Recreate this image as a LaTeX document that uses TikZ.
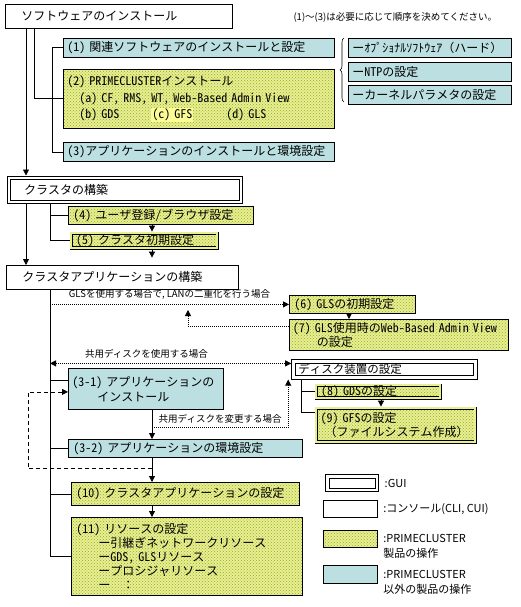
\documentclass[tikz,border=0pt]{standalone}
\usepackage{fontspec}
\setmainfont{Noto Sans CJK JP}
\newfontfamily\boxfont{Noto Sans Mono CJK JP}
\usetikzlibrary{arrows.meta, patterns, decorations.pathreplacing}
\definecolor{tealfill}{RGB}{188,224,226}
\definecolor{yelfill}{RGB}{232,238,150}
\definecolor{yeldot}{RGB}{150,175,20}
\definecolor{gfsfill}{RGB}{252,252,150}

\begin{document}
\begin{tikzpicture}[x=1pt, y=-1pt,
    box/.style={draw, line width=0.8pt, anchor=north west, align=left, inner xsep=5pt, inner ysep=0pt, font=\boxfont\fontsize{12}{15}\selectfont},
    console/.style={box, fill=white},
    prod/.style={box, fill=tealfill},
    pcl/.style={box, preaction={fill=yelfill}, pattern=crosshatch dots, pattern color=yeldot},
    dbl/.style={double=yelfill, double distance=2pt, line width=0.6pt, outer sep=1.6pt},
    gui/.style={box, fill=white, line width=1.1pt, double=white, double distance=2.2pt, outer sep=2.2pt},
    small/.style={font=\fontsize{9.5}{12}\selectfont},
    legend/.style={font=\fontsize{11}{15}\selectfont, align=left},
    link/.style={line width=0.8pt},
    arr/.style={-{Triangle[width=6pt,length=6pt]}, line width=0.8pt},
    dotarr/.style={arr, dash pattern=on 1pt off 1pt},
    dotboth/.style={dotarr, {Triangle[width=6pt,length=6pt]}-{Triangle[width=6pt,length=6pt]}},
    dasharr/.style={arr, dash pattern=on 4pt off 3pt},
]
    \useasboundingbox (0,0) rectangle (520,607);

    % Software installation
    \node[console, text width=195pt, inner xsep=16pt, minimum height=24pt] (sw) at (5,4) {ソフトウェアのインストール};
    \node[small, anchor=west] (note) at (290,17) {(1)〜(3)は必要に応じて順序を決めてください。};
    \node[prod, text width=263pt, inner xsep=4pt, minimum height=19pt] (s1) at (63,38) {(1) 関連ソフトウェアのインストールと設定};
    \node[pcl, text width=263pt, inner xsep=4pt, minimum height=59pt, font=\boxfont\fontsize{12}{16.5}\selectfont] (s2) at (63,69) {(2) PRIMECLUSTERインストール\\
        \hspace*{12pt}(a) CF, RMS, WT, Web-Based Admin View\\
        \hspace*{12pt}\makebox[72pt][l]{(b) GDS}\makebox[75pt][l]{{\fboxsep=1pt\colorbox{gfsfill}{(c) GFS}}}(d) GLS};
    \node[prod, text width=263pt, inner xsep=4pt, minimum height=19pt] (s3) at (63,142) {(3)アプリケーションのインストールと環境設定};

    % Related software
    \draw[line width=0.6pt, decorate, decoration={brace, amplitude=4pt}] (344,102) -- (344,38);
    \node[prod, text width=155pt, inner xsep=4pt, minimum height=19pt] (o1) at (348,38) {ーｵﾌﾟｼｮﾅﾙｿﾌﾄｳｪｱ（ハード）};
    \node[prod, text width=155pt, inner xsep=4pt, minimum height=19pt] (o2) at (348,62) {ーNTPの設定};
    \node[prod, text width=155pt, inner xsep=4pt, minimum height=19pt] (o3) at (348,85) {ーカーネルパラメタの設定};

    % Cluster build
    \node[gui, text width=201pt, inner xsep=15.5pt, minimum height=24pt] (gui1) at (6.5,175.5) {クラスタの構築};
    \node[pcl, text width=175pt, minimum height=18pt] (s4) at (68,206) {(4) ユーザ登録/ブラウザ設定};
    \node[pcl, dbl, text width=136pt, minimum height=14.8pt] (s5) at (69.6,231.6) {(5) クラスタ初期設定};

    \coordinate (t1) at ([xshift=21pt]sw.south west);
    \coordinate (t2) at ([xshift=29pt]sw.south west);
    \draw[arr] (t1) -- (t1 |- gui1.north);
    \draw[link] (t2) |- (s2.west);
    \draw[link] (s1.west) -- ++(-11,0) |- (s3.west);

    \coordinate (col) at (152,0);
    \coordinate (t4) at ([xshift=43.5pt]gui1.south west);
    \draw[link] (t4) |- (s5.west);
    \draw[link] (t4 |- s4.west) -- (s4.west);
    \draw[arr] (s4.south -| col) -- (s5.north -| col);
    \draw[arr] (s5.south -| col) -- ++(0,8);

    % Cluster application build
    \node[console, text width=200pt, inner xsep=16pt, minimum height=24pt] (ca) at (6,265) {クラスタアプリケーションの構築};
    \node[pcl, text width=116pt, minimum height=18pt] (s6) at (289,295) {(6) GLSの初期設定};
    \node[pcl, text width=212pt, inner xsep=3.5pt, minimum height=31pt, font=\boxfont\fontsize{12}{14}\selectfont] (s7) at (289,319) {(7) GLS使用時のWeb-Based Admin View\\\hspace*{24pt}の設定};
    \node[gui, text width=172pt, minimum height=16pt, font=\boxfont\fontsize{11.5}{14}\selectfont] (disk) at (291.2,359.2) {ディスク装置の設定};
    \node[pcl, dbl, text width=114pt, minimum height=12.8pt] (s8) at (314.6,383.6) {(8) GDSの設定};
    \node[pcl, dbl, text width=150pt, inner xsep=4.5pt, minimum height=33.8pt, font=\boxfont\fontsize{12}{14}\selectfont] (s9) at (314.6,406.6) {(9) GFSの設定\\\hspace*{4pt}（ファイルシステム作成）};
    \node[prod, text width=147pt, inner xsep=4pt, minimum height=41pt, font=\boxfont\fontsize{12}{15}\selectfont] (a31) at (68,368) {(3-1) アプリケーションの\\\hspace*{25pt}インストール};
    \node[prod, text width=224pt, minimum height=18pt] (a32) at (68,439) {(3-2) アプリケーションの環境設定};
    \node[pcl, text width=218pt, minimum height=23pt] (s10) at (71,482) {(10) クラスタアプリケーションの設定};
    \node[pcl, text width=221pt, minimum height=78pt, font=\boxfont\fontsize{12}{14.2}\selectfont] (s11) at (71,517) {(11) リソースの設定\\
        \hspace*{22pt}ー引継ぎネットワークリソース\\
        \hspace*{22pt}ーGDS, GLSリソース\\
        \hspace*{22pt}ープロシジャリソース\\
        \hspace*{22pt}ー　：};

    \coordinate (t3) at ([xshift=19.5pt]gui1.south west);
    \draw[arr] (t3) -- (t3 |- ca.north);

    \coordinate (t5) at ([xshift=44pt]ca.south west);
    \coordinate (t6) at ([xshift=9.8pt]disk.south west);
    \coordinate (col2) at (349,0);
    \coordinate (col3) at (381,0);
    \coordinate (glsup) at (188,310);
    \coordinate (lp) at (28,0);
    \draw[link] (t5) |- (s11.west);
    \draw[link] ([yshift=9pt]a31.west -| t5) -- ([yshift=9pt]a31.west);
    \draw[link] (a32.west -| t5) -- (a32.west);
    \draw[link] (s10.west -| t5) -- (s10.west);
    \draw[arr] (a31.south -| col) -- (a32.north -| col);
    \draw[arr] (a32.south -| col) -- (s10.north -| col);
    \draw[arr] (s10.south -| col) -- (s11.north -| col);
    \draw[arr] (s6.south -| col2) -- (s7.north -| col2);
    \draw[arr] (s8.south -| col3) -- (s9.north -| col3);
    \draw[link] (t6) |- ([yshift=13pt]s9.west);
    \draw[link] (t6 |- s8.west) -- (s8.west);

    % Conditional paths
    \draw[dotarr] (t5 |- s6.west) -- (s6.west) node[small, midway, above=1pt] (gls) {GLSを使用する場合で, LANの二重化を行う場合};
    \draw[dotarr] ([yshift=9pt]s7.west) -| (glsup);
    \draw[dotboth] ([yshift=6pt]disk.west -| t5) -- ([yshift=6pt]disk.west) node[small, pos=.4, above=1pt] (share) {共用ディスクを使用する場合};
    \draw[dotarr] ([yshift=-18pt]a31.south -| col) -| ([xshift=-3pt]disk.south west) node[small, pos=.25, above=1pt] (chg) {共用ディスクを変更する場合};
    \draw[dasharr] ([yshift=-11pt]a32.south -| col) -| ([yshift=-3pt]a31.west -| lp) -- ([yshift=-3pt]a31.west);

    % Legend
    \node[gui, minimum width=49.6pt, minimum height=13.6pt] (lgui) at (325.2,474.2) {};
    \node[console, minimum width=54pt, minimum height=17pt] (lcon) at (323,500) {};
    \node[pcl, minimum width=54pt, minimum height=17pt] (lpcl) at (323,530) {};
    \node[prod, minimum width=54pt, minimum height=18pt] (lprod) at (323,565) {};
    \node[legend, anchor=west] (tgui) at ([xshift=2pt]lgui.east) {:GUI};
    \node[legend, anchor=west] (tcon) at ([xshift=2pt]lcon.east) {:コンソール(CLI, CUI)};
    \node[legend, anchor=north west] (tpcl) at ([xshift=2pt, yshift=8pt]lpcl.east) {:PRIMECLUSTER\\製品の操作};
    \node[legend, anchor=north west] (tprod) at ([xshift=2pt, yshift=8pt]lprod.east) {:PRIMECLUSTER\\以外の製品の操作};
\end{tikzpicture}
\end{document}
